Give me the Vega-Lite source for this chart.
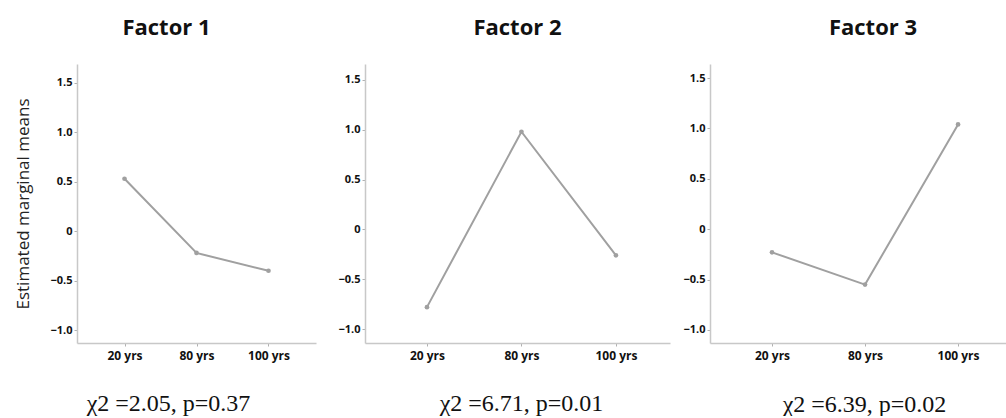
{
  "$schema": "https://vega.github.io/schema/vega-lite/v6.json",
  "padding": {"left": 14, "top": 17, "right": 0, "bottom": 0},
  "background": "white",
  "data": {"values": [
    {"factor": "Factor 1", "age": "20 yrs", "mean": 0.53},
    {"factor": "Factor 1", "age": "80 yrs", "mean": -0.22},
    {"factor": "Factor 1", "age": "100 yrs", "mean": -0.40},
    {"factor": "Factor 2", "age": "20 yrs", "mean": -0.78},
    {"factor": "Factor 2", "age": "80 yrs", "mean": 0.98},
    {"factor": "Factor 2", "age": "100 yrs", "mean": -0.26},
    {"factor": "Factor 3", "age": "20 yrs", "mean": -0.23},
    {"factor": "Factor 3", "age": "80 yrs", "mean": -0.55},
    {"factor": "Factor 3", "age": "100 yrs", "mean": 1.04}
  ]},
  "config": {
    "view": {"stroke": null},
    "font": "Open Sans",
    "axis": {
      "grid": false,
      "domainColor": "#c8c8c8",
      "domainWidth": 1.5,
      "tickColor": "#b0b0b0",
      "tickSize": 3,
      "labelFont": "Open Sans",
      "labelFontWeight": "bold",
      "labelColor": "#111111"
    },
    "title": {"font": "Open Sans", "fontWeight": "bold", "fontSize": 22, "color": "#111111", "baseline": "alphabetic", "offset": 24}
  },
  "bounds": "flush",
  "spacing": 49,
  "hconcat": [
    {
      "width": 239, "height": 279,
      "title": {"text": "Factor 1", "dx": -30},
      "transform": [{"filter": "datum.factor === 'Factor 1'"}],
      "encoding": {
        "x": {"field": "age", "type": "ordinal", "sort": ["20 yrs", "80 yrs", "100 yrs"],
              "scale": {"type": "point", "padding": 0.66},
              "axis": {"labelAngle": 0, "labelFontSize": 12, "labelPadding": 4,
                       "title": "χ2 =2.05, p=0.37", "titleFont": "Liberation Serif", "titleFontWeight": "normal", "titleFontSize": 24, "titleColor": "#111111",
                       "titleX": 91, "titleY": 67, "titleBaseline": "alphabetic"}},
        "y": {"field": "mean", "type": "quantitative",
              "scale": {"domain": [-1.13, 1.69], "nice": false, "zero": false},
              "axis": {"values": [-1, -0.5, 0, 0.5, 1, 1.5], "labelFontSize": 11, "labelPadding": 2,
                       "labelExpr": "datum.value == 0 ? '0' : format(datum.value, '.1f')",
                       "title": "Estimated marginal means", "titleFont": "Open Sans", "titleFontWeight": "normal", "titleFontSize": 17, "titleColor": "#222222", "titlePadding": 17}}
      },
      "layer": [
        {"mark": {"type": "line", "color": "#a0a0a0", "strokeWidth": 2}},
        {"mark": {"type": "point", "filled": true, "color": "#a0a0a0", "size": 22, "opacity": 1}}
      ]
    },
    {
      "bounds": "flush",
      "spacing": 40,
      "hconcat": [
        {
          "width": 305, "height": 279,
          "title": {"text": "Factor 2", "dx": 0},
          "transform": [{"filter": "datum.factor === 'Factor 2'"}],
          "encoding": {
            "x": {"field": "age", "type": "ordinal", "sort": ["20 yrs", "80 yrs", "100 yrs"],
                  "scale": {"type": "point", "padding": 0.614, "align": 0.534},
                  "axis": {"labelAngle": 0, "labelFontSize": 12, "labelPadding": 4,
                           "title": "χ2 =6.71, p=0.01", "titleFont": "Liberation Serif", "titleFontWeight": "normal", "titleFontSize": 24, "titleColor": "#111111",
                           "titleX": 156, "titleY": 67, "titleBaseline": "alphabetic"}},
            "y": {"field": "mean", "type": "quantitative",
                  "scale": {"domain": [-1.14, 1.66], "nice": false, "zero": false},
                  "axis": {"values": [-1, -0.5, 0, 0.5, 1, 1.5], "labelFontSize": 11, "labelPadding": 2,
                           "labelExpr": "datum.value == 0 ? '0' : format(datum.value, '.1f')",
                           "title": null}}
          },
          "layer": [
            {"mark": {"type": "line", "color": "#a0a0a0", "strokeWidth": 2}},
            {"mark": {"type": "point", "filled": true, "color": "#a0a0a0", "size": 22, "opacity": 1}}
          ]
        },
        {
          "width": 296, "height": 279,
          "title": {"text": "Factor 3", "dx": 15},
          "transform": [{"filter": "datum.factor === 'Factor 3'"}],
          "encoding": {
            "x": {"field": "age", "type": "ordinal", "sort": ["20 yrs", "80 yrs", "100 yrs"],
                  "scale": {"type": "point", "padding": 0.591, "align": 0.564},
                  "axis": {"labelAngle": 0, "labelFontSize": 12, "labelPadding": 4,
                           "title": "χ2 =6.39, p=0.02", "titleFont": "Liberation Serif", "titleFontWeight": "normal", "titleFontSize": 24, "titleColor": "#111111",
                           "titleX": 154, "titleY": 68, "titleBaseline": "alphabetic"}},
            "y": {"field": "mean", "type": "quantitative",
                  "scale": {"domain": [-1.13, 1.64], "nice": false, "zero": false},
                  "axis": {"values": [-1, -0.5, 0, 0.5, 1, 1.5], "labelFontSize": 11, "labelPadding": 2,
                           "labelExpr": "datum.value == 0 ? '0' : format(datum.value, '.1f')",
                           "title": null}}
          },
          "layer": [
            {"mark": {"type": "line", "color": "#a0a0a0", "strokeWidth": 2}},
            {"mark": {"type": "point", "filled": true, "color": "#a0a0a0", "size": 22, "opacity": 1}}
          ]
        }
      ]
    }
  ]
}
